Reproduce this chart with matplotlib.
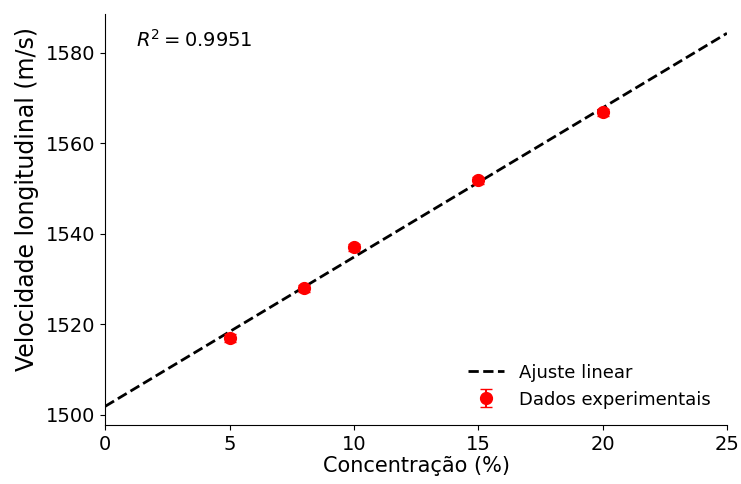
import numpy as np
import matplotlib.pyplot as plt

# dados
concentracao = np.array([5, 8, 10, 15, 20])
velocidade = np.array([1517.0, 1528.0, 1537.0, 1551.8, 1566.8])
erro = np.array([0.8, 0.8, 0.8, 0.8, 0.8])
r2_texto = "$R^2 = 0.9951$"

# ajuste linear
coef = np.polyfit(concentracao, velocidade, 1)
x_fit = np.linspace(0, 25, 200)
y_fit = np.polyval(coef, x_fit)

fig = plt.figure(figsize=(7.41, 4.84), dpi=100)
ax = fig.add_axes([0.142, 0.122, 0.839, 0.849])

ax.plot(x_fit, y_fit, "k--", lw=2, label="Ajuste linear")
ax.errorbar(concentracao, velocidade, yerr=erro, fmt="o", color="red",
            ms=8.5, capsize=4, elinewidth=1.5, label="Dados experimentais")

ax.set_xlim(0, 25)
ax.set_ylim(1497.8, 1588.5)
ax.set_yticks([1500, 1520, 1540, 1560, 1580])
ax.set_xticks([0, 5, 10, 15, 20, 25])
ax.tick_params(labelsize=14)
ax.set_xlabel("Concentração (%)", fontsize=15, labelpad=2)
ax.set_ylabel("Velocidade longitudinal (m/s)", fontsize=17)
ax.yaxis.set_label_coords(-0.107, 0.55)
ax.spines["top"].set_visible(False)
ax.spines["right"].set_visible(False)

ax.text(0.05, 0.965, r2_texto, transform=ax.transAxes, fontsize=14, va="top")
ax.legend(loc="lower right", frameon=False, fontsize=13)

fig.savefig("out.png", dpi=100)
